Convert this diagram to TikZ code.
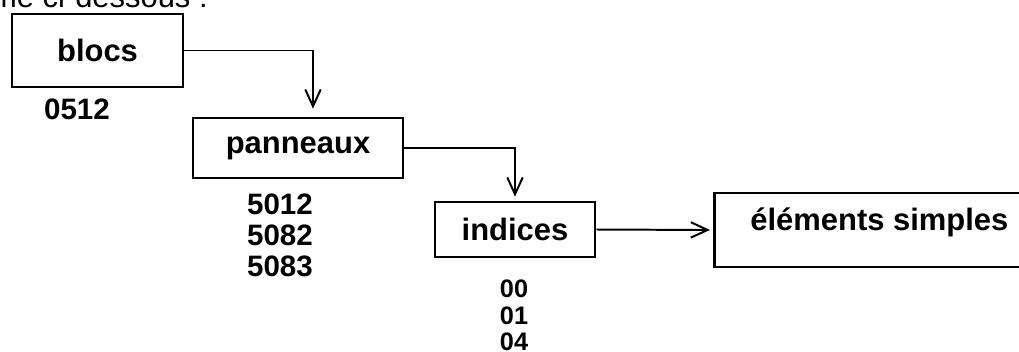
\documentclass[tikz,border=0pt]{standalone}
\usepackage{fontspec}
\setmainfont{Liberation Sans}
\usetikzlibrary{arrows.meta}

\tikzset{
  niveau/.style={draw, line width=1.9pt, inner sep=0pt,
    font=\fontsize{22}{22}\selectfont\bfseries},
  codes/.style={align=center, inner sep=0pt,
    font=\fontsize{21}{22}\selectfont\bfseries},
  lien/.style={line width=1.4pt,
    -{Straight Barb[length=12pt,width=11pt]}}
}

\begin{document}
\begin{tikzpicture}[x=0.025cm, y=-0.025cm]
  \useasboundingbox (0,0) rectangle (1019,351);
  \clip (0,0) rectangle (1019,351);
  \node[name=intro, anchor=base east, inner sep=0pt,
    font=\fontsize{22}{22}\selectfont] at (208,7) {comme ci-dessous :};
  % niveaux
  \node[name=blocs, niveau, minimum width=4.275cm, minimum height=1.825cm]
    at (97.5,50.5) {blocs};
  \node[name=panneaux, niveau, minimum width=5.25cm, minimum height=1.5cm]
    at (298,148) {panneaux};
  \node[name=indices, niveau, minimum width=4cm, minimum height=1.375cm]
    at (515,229.5) {indices};
  \node[name=elements, niveau, anchor=west, minimum width=8.25cm,
    minimum height=1.85cm, text depth=0.55cm] at (713,230) {éléments simples};
  % codes
  \node[name=cblocs, codes] at (77,109) {0512};
  \node[name=cpanneaux, codes] at (280,235.5) {5012\\5082\\5083};
  \node[name=cindices, codes, font=\fontsize{18}{19}\selectfont\bfseries]
    at (514,315.5) {00\\01\\04};
  % liens
  \draw[lien, shorten >=0.2cm] (blocs.east) -| ([xshift=0.375cm]panneaux.north);
  \draw[lien, shorten >=0.1cm] (panneaux.east) -| (indices.north);
  \draw[lien, shorten >=0.075cm] (indices.east) -- (elements.west);
\end{tikzpicture}
\end{document}
